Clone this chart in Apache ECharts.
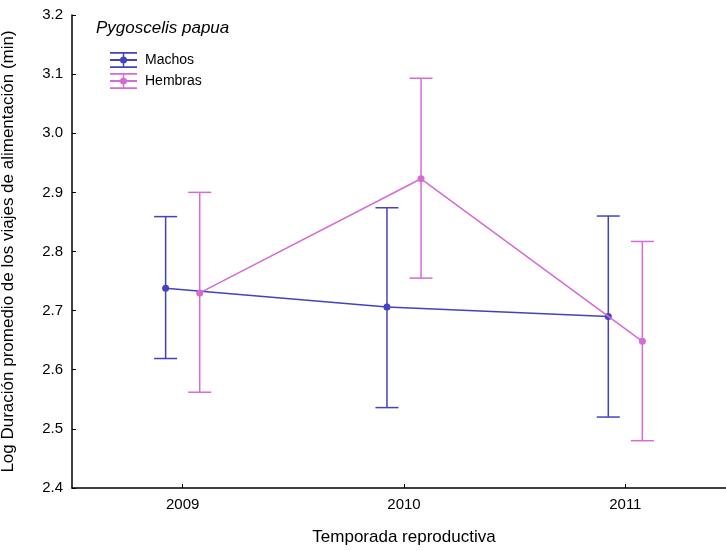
<!DOCTYPE html>
<html>
<head>
<meta charset="utf-8">
<title>Pygoscelis papua</title>
<script src="https://cdn.jsdelivr.net/npm/echarts@6/dist/echarts.min.js"></script>
<style>
html,body{margin:0;padding:0;background:#ffffff;}
#chart{width:726px;height:551px;}
</style>
</head>
<body>
<div id="chart"></div>
<script>
/**
 * =====================================================
 * Data
 * =====================================================
 */

const years=["2009","2010","2011"];

const machosMean=[2.738,2.706,2.690];
const machosLow=[2.619,2.536,2.520];
const machosHigh=[2.859,2.874,2.860];

const hembrasMean=[2.730,2.923,2.648];
const hembrasLow=[2.562,2.755,2.480];
const hembrasHigh=[2.900,3.093,2.817];

const yTicks=[2.4,2.5,2.6,2.7,2.8,2.9,3.0,3.1,3.2];

/**
 * =====================================================
 * Style
 * =====================================================
 */

const FONT="Liberation Sans, Arial, sans-serif";
const BLUE="#4242c2";
const PINK="#d46cd4";
const SHIFT=0.077;
const CAP=11.5;

// legend glyph: two caps, a bar through the middle, the stem and a dot
const LEGEND_ICON="path://M0 0H27V1.8H0Z M0 7.1H27V8.9H0Z M0 14.2H27V16H0Z M12.75 0H14.25V16H12.75Z M10 8A3.5 3.5 0 1 1 17 8A3.5 3.5 0 1 1 10 8Z";

/**
 * =====================================================
 * Series builders
 * =====================================================
 */

function meanPoints(means,shift){

    return means.map(
        (v,i)=>[i+1+shift,v]
    );

}

function barRows(low,high,shift){

    return low.map(
        (v,i)=>[i+1+shift,v,high[i]]
    );

}

function errorBar(color){

    return function(params,api){

        const x=api.value(0);
        const top=api.coord([x,api.value(2)]);
        const bottom=api.coord([x,api.value(1)]);
        const style={stroke:color,lineWidth:1.5};

        return {
            type:"group",
            children:[
                {type:"line",shape:{x1:top[0],y1:top[1],x2:bottom[0],y2:bottom[1]},style},
                {type:"line",shape:{x1:top[0]-CAP,y1:top[1],x2:top[0]+CAP,y2:top[1]},style},
                {type:"line",shape:{x1:bottom[0]-CAP,y1:bottom[1],x2:bottom[0]+CAP,y2:bottom[1]},style}
            ]
        };

    };

}

/**
 * =====================================================
 * Chart
 * =====================================================
 */

const chart=echarts.init(
    document.getElementById("chart"),
    null,
    {renderer:"canvas"}
);

chart.setOption({

    backgroundColor:"#ffffff",
    animation:false,

    textStyle:{fontFamily:FONT},

    title:{
        text:"Pygoscelis papua",
        left:91,
        top:15,
        textStyle:{
            fontFamily:FONT,
            fontStyle:"italic",
            fontWeight:"normal",
            fontSize:17,
            color:"#000"
        }
    },

    legend:{
        orient:"vertical",
        left:110,
        top:52,
        padding:0,
        itemWidth:27,
        itemHeight:16,
        itemGap:5,
        selectedMode:false,
        textStyle:{fontFamily:FONT,fontSize:14,color:"#000",padding:[0,0,0,3]},
        data:[
            {name:"Machos",icon:LEGEND_ICON},
            {name:"Hembras",icon:LEGEND_ICON}
        ]
    },

    // the x axis runs past the right edge of the picture, as in the source
    grid:{
        left:72,
        top:15,
        width:664,
        bottom:63,
        outerBoundsMode:"none"
    },

    xAxis:{
        type:"value",
        min:0.5,
        max:3.5,
        name:"Temporada reproductiva",
        nameLocation:"middle",
        nameGap:41,
        nameTextStyle:{fontFamily:FONT,fontSize:17,color:"#000"},
        splitLine:{show:false},
        axisLine:{lineStyle:{color:"#000",width:1.5}},
        axisTick:{
            inside:true,
            length:4,
            customValues:[1,2,3],
            lineStyle:{color:"#000"}
        },
        axisLabel:{
            customValues:[1,2,3],
            margin:9,
            fontSize:15,
            color:"#000",
            formatter:v=>years[Math.round(v)-1]
        }
    },

    yAxis:{
        type:"value",
        min:yTicks[0],
        max:yTicks[yTicks.length-1],
        interval:0.1,
        name:"Log Duración promedio de los viajes de alimentación (min)",
        nameLocation:"middle",
        nameGap:55,
        nameTextStyle:{fontFamily:FONT,fontSize:17,color:"#000"},
        splitLine:{show:false},
        axisLine:{show:true,lineStyle:{color:"#000",width:1.5}},
        axisTick:{inside:true,length:4,lineStyle:{color:"#000"}},
        axisLabel:{
            margin:9,
            fontSize:15,
            color:"#000",
            formatter:v=>v.toFixed(1)
        }
    },

    series:[
        {
            name:"Machos",
            type:"custom",
            renderItem:errorBar(BLUE),
            itemStyle:{color:BLUE},
            encode:{x:0,y:[1,2]},
            data:barRows(machosLow,machosHigh,-SHIFT),
            z:2
        },
        {
            name:"Hembras",
            type:"custom",
            renderItem:errorBar(PINK),
            itemStyle:{color:PINK},
            encode:{x:0,y:[1,2]},
            data:barRows(hembrasLow,hembrasHigh,SHIFT),
            z:2
        },
        {
            name:"Machos",
            type:"line",
            data:meanPoints(machosMean,-SHIFT),
            symbol:"circle",
            symbolSize:7,
            itemStyle:{color:BLUE},
            lineStyle:{color:BLUE,width:1.5},
            z:3
        },
        {
            name:"Hembras",
            type:"line",
            data:meanPoints(hembrasMean,SHIFT),
            symbol:"circle",
            symbolSize:7,
            itemStyle:{color:PINK},
            lineStyle:{color:PINK,width:1.5},
            z:4
        }
    ]

});
</script>
</body>
</html>
